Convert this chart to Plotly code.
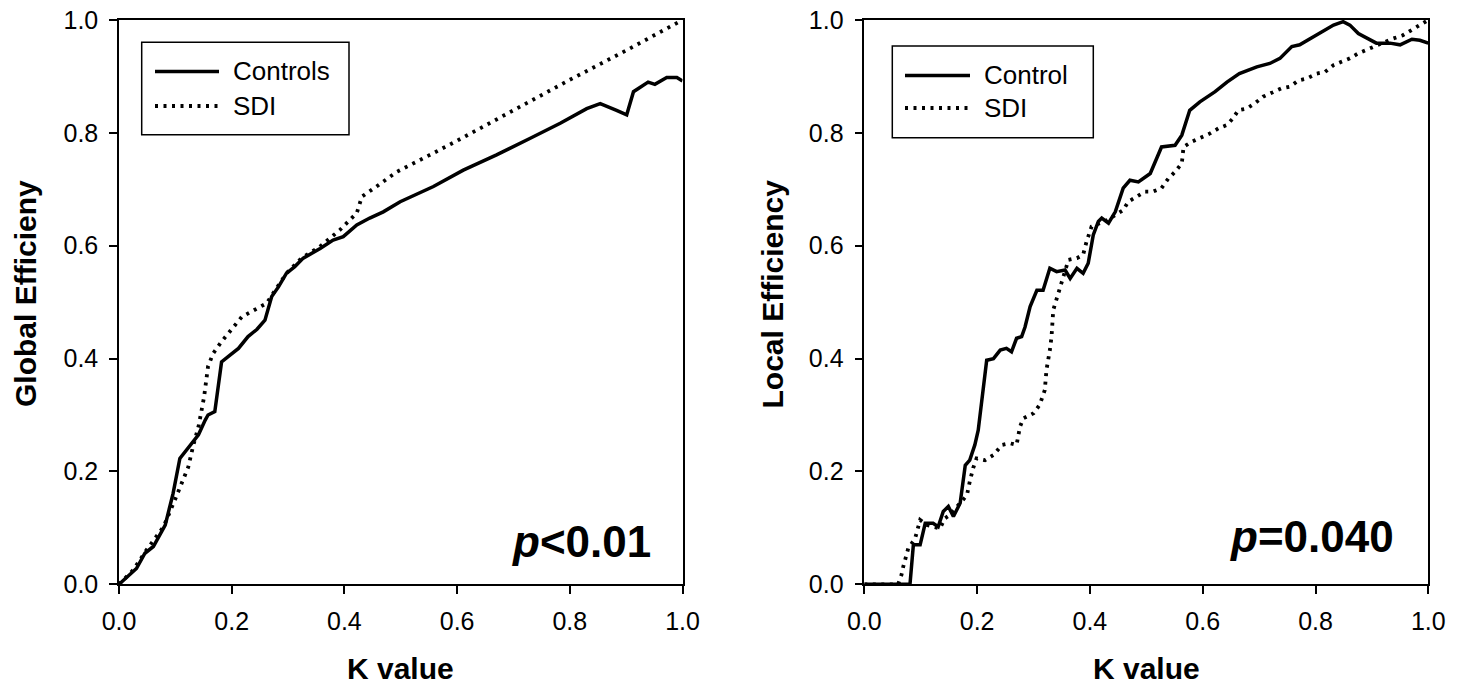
import plotly.graph_objects as go

W, H = 1465, 686
FONT = "Arial, 'Liberation Sans', sans-serif"

# ---------------- data ----------------
# Left panel: Global efficiency
ge_ctrl_k = [0.0, 0.031, 0.046, 0.061, 0.082, 0.096, 0.108, 0.126, 0.141, 0.153, 0.158, 0.170,
             0.182, 0.197, 0.212, 0.229, 0.245, 0.259, 0.271, 0.283, 0.297, 0.312, 0.327, 0.357,
             0.380, 0.398, 0.422, 0.445, 0.469, 0.499, 0.558, 0.611, 0.670, 0.729, 0.783, 0.830,
             0.854, 0.883, 0.901, 0.913, 0.939, 0.951, 0.972, 0.990, 1.0]
ge_ctrl_v = [0.0, 0.028, 0.055, 0.067, 0.105, 0.161, 0.223, 0.247, 0.265, 0.291, 0.300, 0.306,
             0.394, 0.406, 0.418, 0.439, 0.452, 0.468, 0.510, 0.527, 0.551, 0.563, 0.578, 0.595,
             0.610, 0.616, 0.637, 0.649, 0.660, 0.678, 0.705, 0.734, 0.761, 0.790, 0.817, 0.843,
             0.852, 0.840, 0.832, 0.873, 0.890, 0.886, 0.898, 0.898, 0.892]

ge_sdi_k = [0.0, 0.025, 0.049, 0.079, 0.099, 0.111, 0.123, 0.132, 0.141, 0.151, 0.158, 0.167,
            0.182, 0.218, 0.262, 0.297, 0.324, 0.356, 0.392, 0.422, 0.431, 0.457, 0.493, 0.55,
            0.60, 0.70, 0.80, 0.90, 1.0]
ge_sdi_v = [0.0, 0.025, 0.061, 0.102, 0.149, 0.179, 0.208, 0.247, 0.279, 0.332, 0.386, 0.409,
            0.430, 0.474, 0.498, 0.551, 0.578, 0.598, 0.628, 0.658, 0.687, 0.705, 0.731, 0.760,
            0.786, 0.840, 0.894, 0.946, 1.0]

# Right panel: Local efficiency
le_ctrl_k = [0.0, 0.081, 0.087, 0.099, 0.108, 0.122, 0.131, 0.140, 0.149, 0.158, 0.170, 0.179,
             0.187, 0.196, 0.202, 0.217, 0.229, 0.241, 0.252, 0.261, 0.270, 0.279, 0.285, 0.294,
             0.306, 0.317, 0.329, 0.341, 0.356, 0.365, 0.377, 0.388, 0.397, 0.406, 0.415, 0.421,
             0.433, 0.445, 0.459, 0.471, 0.486, 0.507, 0.527, 0.551, 0.563, 0.577, 0.595, 0.622,
             0.643, 0.665, 0.696, 0.719, 0.737, 0.758, 0.772, 0.802, 0.832, 0.849, 0.861, 0.876,
             0.890, 0.908, 0.932, 0.950, 0.971, 0.985, 1.0]
le_ctrl_v = [0.0, 0.0, 0.070, 0.070, 0.108, 0.108, 0.102, 0.129, 0.138, 0.120, 0.144, 0.211,
             0.220, 0.247, 0.273, 0.397, 0.400, 0.415, 0.418, 0.412, 0.436, 0.439, 0.456, 0.492,
             0.521, 0.521, 0.560, 0.554, 0.557, 0.542, 0.560, 0.551, 0.569, 0.619, 0.643, 0.649,
             0.640, 0.660, 0.702, 0.716, 0.713, 0.728, 0.775, 0.778, 0.796, 0.840, 0.855, 0.873,
             0.890, 0.905, 0.917, 0.923, 0.932, 0.953, 0.956, 0.973, 0.991, 0.997, 0.991, 0.976,
             0.968, 0.959, 0.959, 0.956, 0.966, 0.964, 0.959]

le_sdi_k = [0.0, 0.060, 0.066, 0.069, 0.078, 0.090, 0.099, 0.111, 0.134, 0.143, 0.152, 0.167,
            0.182, 0.187, 0.193, 0.199, 0.214, 0.229, 0.244, 0.258, 0.270, 0.276, 0.282, 0.300,
            0.311, 0.320, 0.323, 0.329, 0.332, 0.335, 0.344, 0.353, 0.362, 0.377, 0.388, 0.394,
            0.403, 0.430, 0.459, 0.468, 0.483, 0.498, 0.512, 0.527, 0.539, 0.551, 0.563, 0.566,
            0.580, 0.595, 0.613, 0.628, 0.643, 0.654, 0.663, 0.678, 0.692, 0.707, 0.725, 0.740,
            0.755, 0.770, 0.784, 0.802, 0.817, 0.832, 0.846, 0.861, 0.876, 0.890, 0.905, 0.922,
            0.937, 0.955, 0.970, 0.985, 1.0]
le_sdi_v = [0.0, 0.0, 0.017, 0.031, 0.064, 0.081, 0.114, 0.105, 0.099, 0.117, 0.123, 0.140,
            0.158, 0.182, 0.206, 0.223, 0.220, 0.229, 0.247, 0.250, 0.247, 0.279, 0.294, 0.303,
            0.318, 0.344, 0.380, 0.415, 0.439, 0.486, 0.516, 0.542, 0.575, 0.578, 0.584, 0.607,
            0.634, 0.645, 0.663, 0.678, 0.687, 0.696, 0.696, 0.702, 0.719, 0.731, 0.746, 0.775,
            0.784, 0.790, 0.799, 0.808, 0.814, 0.826, 0.840, 0.843, 0.852, 0.864, 0.873, 0.879,
            0.882, 0.893, 0.896, 0.905, 0.908, 0.920, 0.926, 0.932, 0.941, 0.947, 0.953, 0.961,
            0.967, 0.973, 0.982, 0.991, 1.0]

tick_vals = [0.0, 0.2, 0.4, 0.6, 0.8, 1.0]
tick_text = ["0.0", "0.2", "0.4", "0.6", "0.8", "1.0"]

x_title = "K value"
y_titles = ["Global Efficieny", "Local Efficiency"]
legend_names = [["Controls", "SDI"], ["Control", "SDI"]]
p_texts = ["<b><i>p</i>&lt;0.01</b>", "<b><i>p</i>=0.040</b>"]

# ---------------- layout helpers ----------------
def px(x):
    return x / W

def py(y):
    return 1 - y / H

solid = dict(color="black", width=3.5)
dotted = dict(color="black", width=3.8, dash="3px,5.5px")

fig = go.Figure()
fig.add_trace(go.Scatter(x=ge_ctrl_k, y=ge_ctrl_v, mode="lines", line=solid,
                         xaxis="x", yaxis="y", showlegend=False))
fig.add_trace(go.Scatter(x=ge_sdi_k, y=ge_sdi_v, mode="lines", line=dotted,
                         xaxis="x", yaxis="y", showlegend=False))
fig.add_trace(go.Scatter(x=le_ctrl_k, y=le_ctrl_v, mode="lines", line=solid,
                         xaxis="x2", yaxis="y2", showlegend=False))
fig.add_trace(go.Scatter(x=le_sdi_k, y=le_sdi_v, mode="lines", line=dotted,
                         xaxis="x2", yaxis="y2", showlegend=False))

axis_common = dict(range=[0, 1], tickvals=tick_vals, ticktext=tick_text,
                   showline=True, mirror=True, linecolor="black", linewidth=1.5,
                   ticks="outside", ticklen=8, tickwidth=1.5, tickcolor="black",
                   showgrid=False, zeroline=False, automargin=False,
                   tickfont=dict(family=FONT, size=25, color="black"), fixedrange=True)
xaxis_common = dict(axis_common, ticklabelstandoff=6)
yaxis_common = dict(axis_common, ticklabelstandoff=6)

ydom = [py(584.3), py(20)]
fig.update_layout(
    width=W, height=H,
    margin=dict(l=0, r=0, t=0, b=0),
    paper_bgcolor="white", plot_bgcolor="white",
    xaxis=dict(domain=[px(119), px(682.5)], anchor="y", **xaxis_common),
    yaxis=dict(domain=ydom, anchor="x", **yaxis_common),
    xaxis2=dict(domain=[px(864.3), px(1428.3)], anchor="y2", **xaxis_common),
    yaxis2=dict(domain=ydom, anchor="x2", **yaxis_common),
    showlegend=False,
)

shapes = []
annotations = []
panels = [
    dict(xc=(119 + 682.5) / 2, ytx=25, box=(141.7, 42.3, 349, 134.7), lx=(155, 219),
         ly=(71.5, 106), tx=231, pright=653, pcy=541),
    dict(xc=(864.3 + 1428.3) / 2, ytx=771.5, box=(892.3, 46, 1093.3, 137.7), lx=(905, 970),
         ly=(75.5, 108), tx=982, pright=1396, pcy=536.5),
]
for i, p in enumerate(panels):
    annotations.append(dict(text="<b>%s</b>" % x_title, x=px(p["xc"]), y=py(668.5),
                            xref="paper", yref="paper", showarrow=False,
                            xanchor="center", yanchor="middle",
                            font=dict(family=FONT, size=30, color="black")))
    annotations.append(dict(text="<b>%s</b>" % y_titles[i], x=px(p["ytx"]), y=py(294),
                            xref="paper", yref="paper", showarrow=False, textangle=-90,
                            xanchor="center", yanchor="middle",
                            font=dict(family=FONT, size=30, color="black")))
    annotations.append(dict(text=p_texts[i], x=px(p["pright"]), y=py(p["pcy"]),
                            xref="paper", yref="paper", showarrow=False,
                            xanchor="right", yanchor="middle",
                            font=dict(family=FONT, size=44, color="black")))
    x0, y0, x1, y1 = p["box"]
    shapes.append(dict(type="rect", xref="paper", yref="paper",
                       x0=px(x0), x1=px(x1), y0=py(y1), y1=py(y0),
                       line=dict(color="black", width=1.5), fillcolor="white", layer="above"))
    for j, (ls, name) in enumerate(zip([solid, dotted], legend_names[i])):
        shapes.append(dict(type="line", xref="paper", yref="paper",
                           x0=px(p["lx"][0]), x1=px(p["lx"][1]),
                           y0=py(p["ly"][j]), y1=py(p["ly"][j]),
                           line=ls, layer="above"))
        annotations.append(dict(text=name, x=px(p["tx"]), y=py(p["ly"][j]),
                                xref="paper", yref="paper", showarrow=False,
                                xanchor="left", yanchor="middle",
                                font=dict(family=FONT, size=26, color="black")))

fig.update_layout(shapes=shapes, annotations=annotations)
fig.write_html("out.html", config={"displayModeBar": False},
               post_script="document.body.style.margin='0';document.body.style.padding='0';")
